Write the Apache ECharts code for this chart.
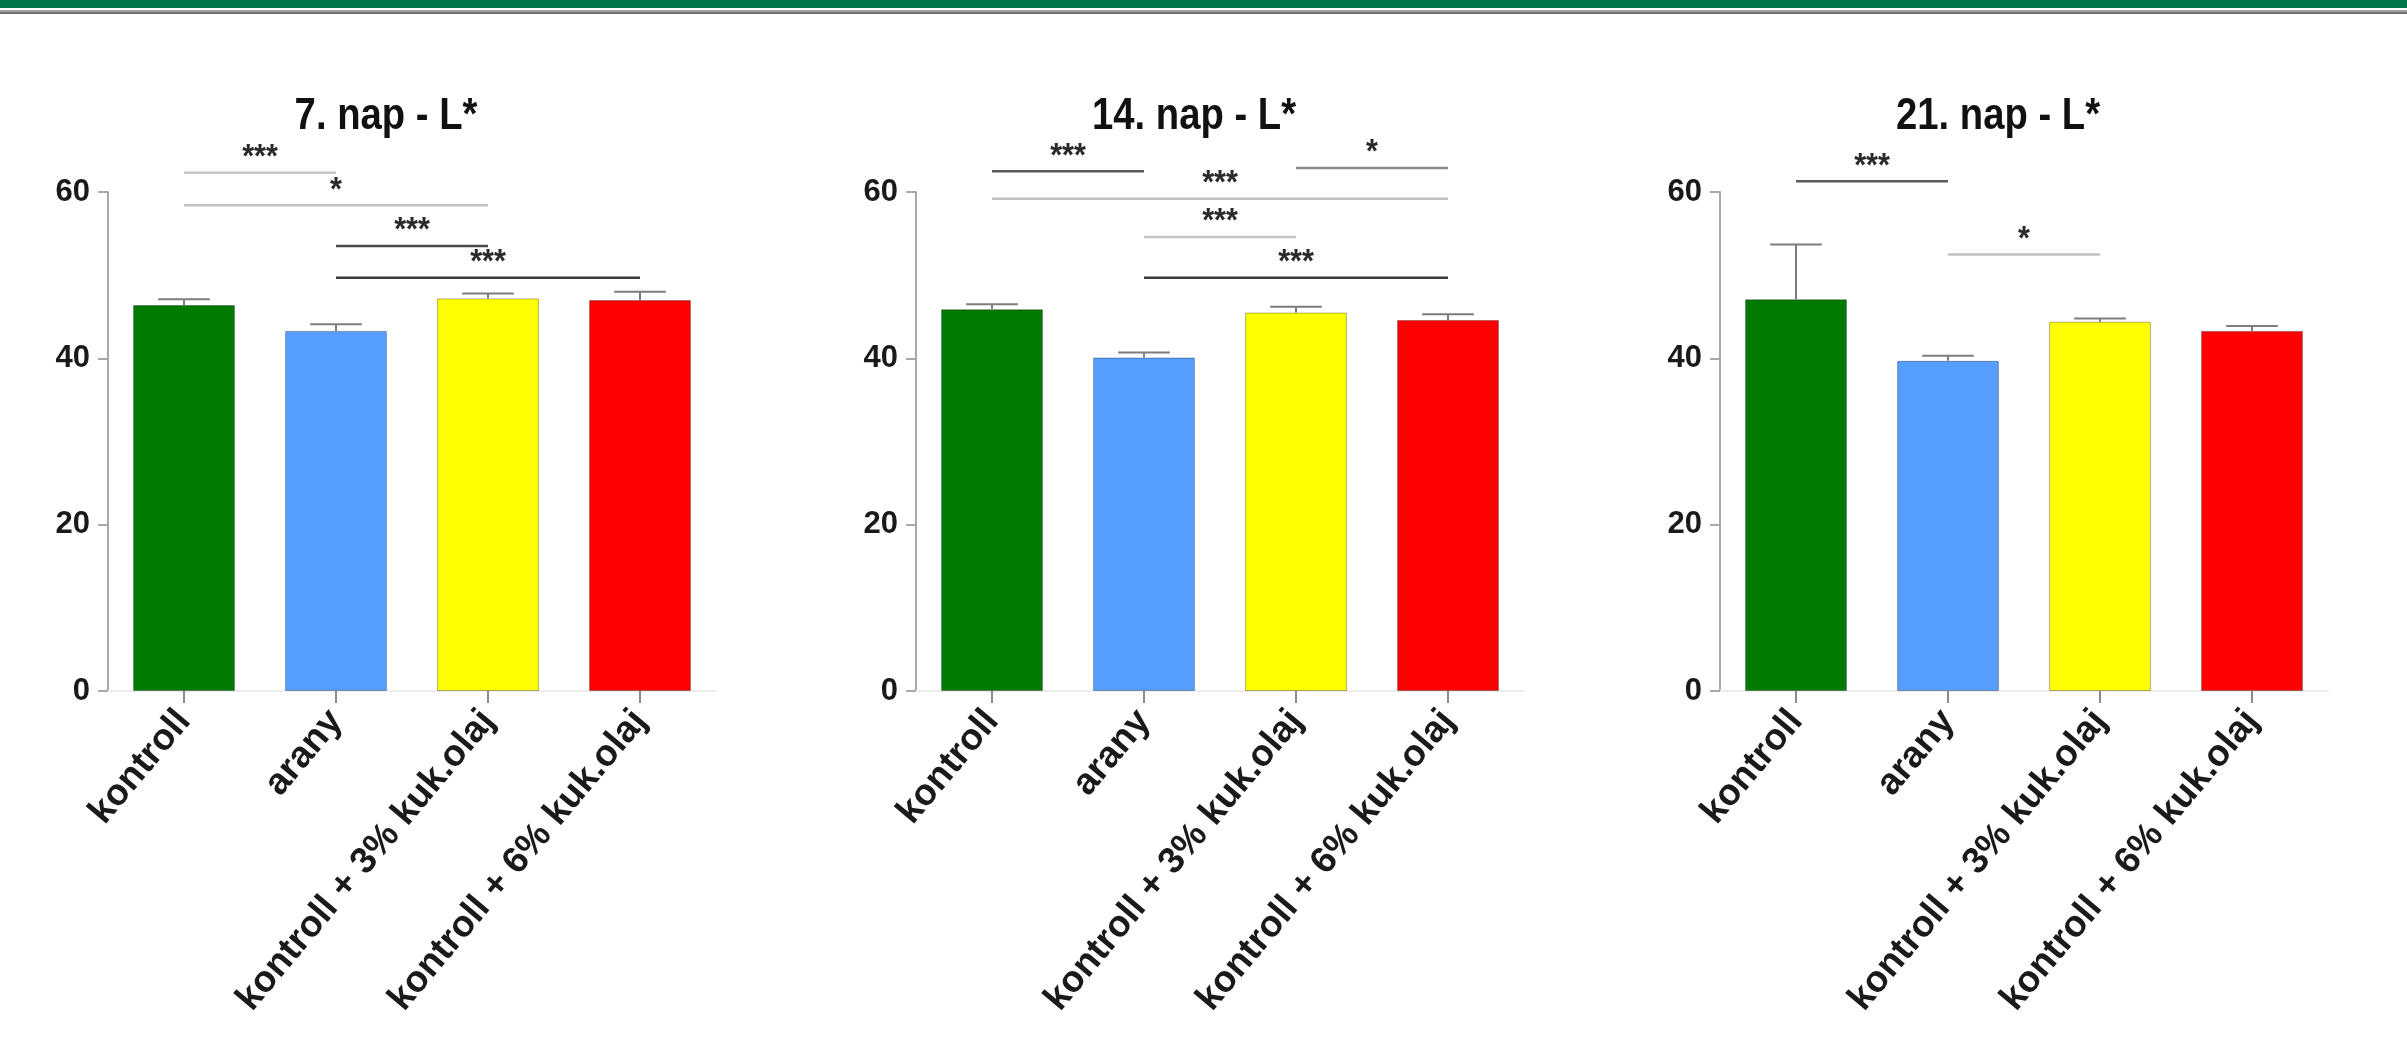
<!DOCTYPE html>
<html>
<head>
<meta charset="utf-8">
<script src="https://cdn.jsdelivr.net/npm/echarts@6/dist/echarts.min.js"></script>
<style>
  html, body { margin: 0; padding: 0; background: #ffffff; }
  #chart { width: 2407px; height: 1060px; }
</style>
</head>
<body>
<div id="chart"></div>
<script>
// ---- data ----
const categories = ['kontroll', 'arany', 'kontroll + 3% kuk.olaj', 'kontroll + 6% kuk.olaj'];
const panelTitles = ['7. nap - L*', '14. nap - L*', '21. nap - L*'];
const yTicks = [0, 20, 40, 60];

const day7Mean = [46.4, 43.3, 47.2, 47.0];
const day7Err = [0.7, 0.8, 0.6, 1.0];
const day14Mean = [45.9, 40.1, 45.5, 44.6];
const day14Err = [0.6, 0.6, 0.7, 0.7];
const day21Mean = [47.1, 39.7, 44.4, 43.3];
const day21Err = [6.6, 0.6, 0.4, 0.6];

// significance brackets: [from category, to category, bracket height, stars]
const day7Sig = [[0, 1, 62.3, '***'], [0, 2, 58.4, '*'], [1, 2, 53.5, '***'], [1, 3, 49.7, '***']];
const day14Sig = [[0, 1, 62.5, '***'], [2, 3, 62.9, '*'], [0, 3, 59.2, '***'], [1, 2, 54.6, '***'], [1, 3, 49.7, '***']];
const day21Sig = [[0, 1, 61.3, '***'], [1, 2, 52.5, '*']];

// ---- styling ----
const barColors = ['#007A00', '#559DFF', '#FFFF00', '#FF0000'];
// bracket line shade per panel, in the same order as the bracket lists
const bracketShades = [
  ['#c4c4c4', '#c4c4c4', '#4a4a4a', '#3a3a3a'],
  ['#5a5a5a', '#8a8a8a', '#c0c0c0', '#c4c4c4', '#3a3a3a'],
  ['#5a5a5a', '#c0c0c0']
];
const labelFont = "'Liberation Sans', Arial, sans-serif";
const panelLeft = [108, 916, 1720];
const panelWidth = 608;
const plotTop = 192;
const plotHeight = 499;

const panels = [
  { mean: day7Mean, err: day7Err, sig: day7Sig },
  { mean: day14Mean, err: day14Err, sig: day14Sig },
  { mean: day21Mean, err: day21Err, sig: day21Sig }
];

const grids = [], xAxes = [], yAxes = [], series = [], graphics = [];

// header band
graphics.push({ type: 'rect', shape: { x: 0, y: 0, width: 2407, height: 8 }, style: { fill: '#00764A' }, silent: true });
graphics.push({
  type: 'rect', shape: { x: 0, y: 10, width: 2407, height: 4 }, silent: true,
  style: { fill: new echarts.graphic.LinearGradient(0, 0, 0, 1, [
    { offset: 0, color: '#b5b5b5' }, { offset: 1, color: '#5e5e5e' }]) }
});

function renderErrorBar(params, api) {
  const k = api.value(0);
  const base = api.coord([k, api.value(1)]);
  const tip = api.coord([k, api.value(2)]);
  const half = api.size([1, 0])[0] * 0.17;
  const s = { stroke: '#7d7d7d', lineWidth: 2 };
  return {
    type: 'group',
    children: [
      { type: 'line', shape: { x1: base[0], y1: base[1], x2: tip[0], y2: tip[1] }, style: s },
      { type: 'line', shape: { x1: tip[0] - half, y1: tip[1], x2: tip[0] + half, y2: tip[1] }, style: s }
    ]
  };
}

function makeSigRenderer(sig, shades) {
  return function (params, api) {
    const a = api.coord([api.value(0), api.value(2)]);
    const b = api.coord([api.value(1), api.value(2)]);
    return {
      type: 'group',
      children: [
        { type: 'line', shape: { x1: a[0], y1: a[1], x2: b[0], y2: b[1] },
          style: { stroke: shades[params.dataIndex], lineWidth: 2.5 } },
        { type: 'text', x: (a[0] + b[0]) / 2, y: a[1] - 15, scaleX: 0.9,
          style: { text: sig[params.dataIndex][3], align: 'center', verticalAlign: 'middle',
                   font: "bold 34px " + labelFont, fill: '#2a2a2a' } }
      ]
    };
  };
}

panels.forEach((p, i) => {
  grids.push({ left: panelLeft[i], top: plotTop, width: panelWidth, height: plotHeight });

  xAxes.push({
    type: 'category', gridIndex: i, data: categories,
    axisLine: { show: true, lineStyle: { color: '#ececec', width: 2 } },
    axisTick: { show: true, alignWithLabel: true, length: 12, lineStyle: { color: '#8a8a8a', width: 2 } },
    axisLabel: { interval: 0, rotate: 50, margin: 24, fontSize: 37, fontWeight: 'bold',
                 fontFamily: labelFont, color: '#1a1a1a' }
  });

  yAxes.push({
    type: 'value', gridIndex: i,
    min: yTicks[0], max: yTicks[yTicks.length - 1], interval: yTicks[1] - yTicks[0],
    axisLine: { show: true, lineStyle: { color: '#a8a8a8', width: 2 } },
    axisTick: { show: true, length: 10, lineStyle: { color: '#a8a8a8', width: 2 } },
    axisLabel: { margin: 18, fontSize: 31, fontWeight: 'bold', fontFamily: labelFont, color: '#1a1a1a' },
    splitLine: { show: false }
  });

  series.push({
    type: 'bar', xAxisIndex: i, yAxisIndex: i, barCategoryGap: '33%', silent: true,
    itemStyle: { borderColor: 'rgba(0,0,0,0.3)', borderWidth: 1 },
    data: p.mean.map((v, k) => ({ value: v, itemStyle: { color: barColors[k] } }))
  });

  series.push({
    type: 'custom', xAxisIndex: i, yAxisIndex: i, silent: true, z: 3, clip: false,
    encode: { x: 0, y: [1, 2] },
    data: p.mean.map((v, k) => [k, v, v + p.err[k]]),
    renderItem: renderErrorBar
  });

  series.push({
    type: 'custom', xAxisIndex: i, yAxisIndex: i, silent: true, z: 4, clip: false,
    encode: { x: [0, 1], y: 2 },
    data: p.sig.map(d => [d[0], d[1], d[2]]),
    renderItem: makeSigRenderer(p.sig, bracketShades[i])
  });

  // condensed bold panel title
  graphics.push({
    type: 'text', x: panelLeft[i] + 278, y: 117, scaleX: 0.85, silent: true,
    style: { text: panelTitles[i], align: 'center', verticalAlign: 'middle',
             font: "bold 45px " + labelFont, fill: '#111111' }
  });
});

const chart = echarts.init(document.getElementById('chart'), null, { renderer: 'canvas' });
chart.setOption({
  backgroundColor: '#ffffff',
  animation: false,
  grid: grids,
  xAxis: xAxes,
  yAxis: yAxes,
  series: series,
  graphic: graphics
});
</script>
</body>
</html>
